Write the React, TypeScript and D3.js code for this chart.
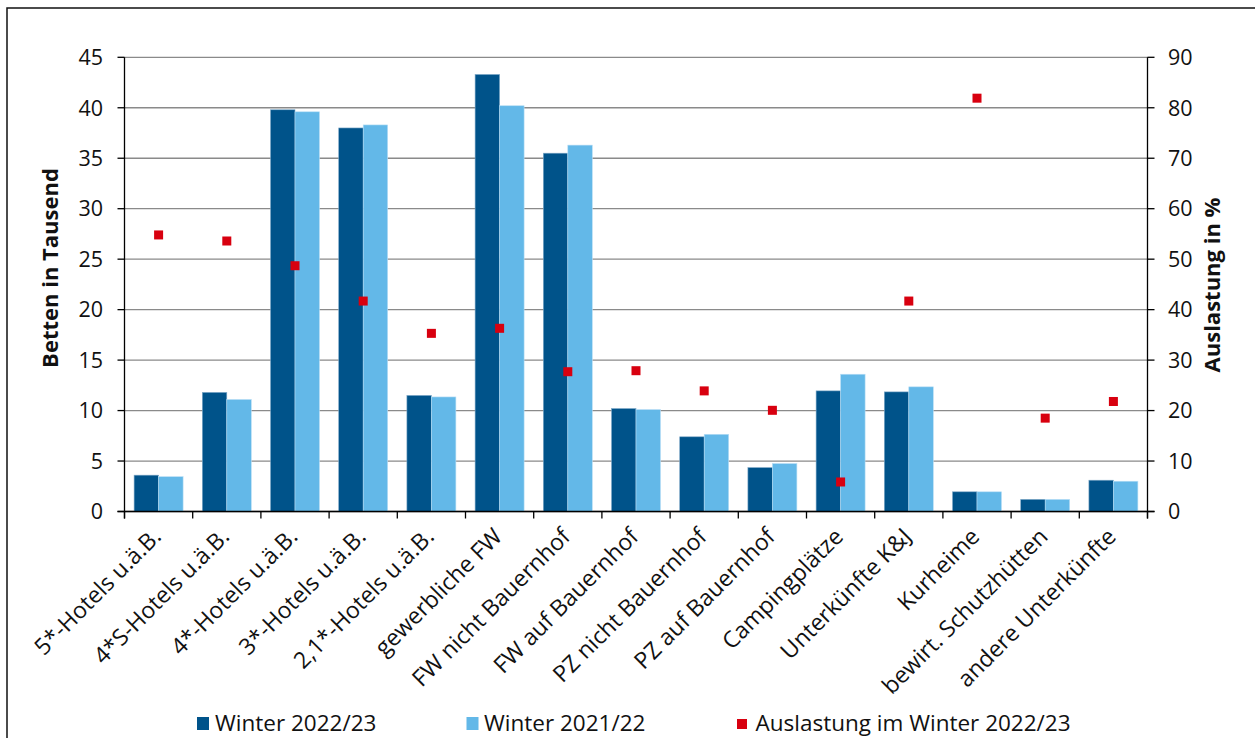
import React from "react";
import * as d3 from "d3";

const categories = [
  "5*-Hotels u.ä.B.",
  "4*S-Hotels u.ä.B.",
  "4*-Hotels u.ä.B.",
  "3*-Hotels u.ä.B.",
  "2,1*-Hotels u.ä.B.",
  "gewerbliche FW",
  "FW nicht Bauernhof",
  "FW auf Bauernhof",
  "PZ nicht Bauernhof",
  "PZ auf Bauernhof",
  "Campingplätze",
  "Unterkünfte K&J",
  "Kurheime",
  "bewirt. Schutzhütten",
  "andere Unterkünfte",
];
const winter2223 = [3.6, 11.8, 39.8, 38.0, 11.5, 43.3, 35.5, 10.2, 7.4, 4.35, 11.95, 11.85, 1.95, 1.2, 3.1];
const winter2122 = [3.45, 11.1, 39.6, 38.3, 11.35, 40.2, 36.3, 10.1, 7.65, 4.75, 13.6, 12.35, 1.95, 1.2, 3.0];
const auslastung = [54.8, 53.6, 48.7, 41.7, 35.3, 36.3, 27.7, 27.9, 23.9, 20.05, 5.85, 41.7, 81.9, 18.5, 21.8];
const leftTicks = [0, 5, 10, 15, 20, 25, 30, 35, 40, 45];
const rightTicks = [0, 10, 20, 30, 40, 50, 60, 70, 80, 90];
const seriesNames = ["Winter 2022/23", "Winter 2021/22", "Auslastung im Winter 2022/23"];

const DARK = "#00538a";
const LIGHT = "#63b8e8";
const RED = "#d8000f";
const FONT = "'Open Sans', 'DejaVu Sans', sans-serif";

export default function App() {
  const left = 124.5, right = 1147.5, top = 57.3, bottom = 511.5;
  const x = d3.scaleBand<string>().domain(categories).range([left, right]).padding(0);
  const x1 = d3.scaleBand<string>().domain(["a", "b"]).range([0, x.bandwidth()]).paddingInner(0).paddingOuter(0.392);
  const y = d3.scaleLinear().domain([0, 45]).range([bottom, top]);
  const y2 = d3.scaleLinear().domain([0, 90]).range([bottom, top]);
  const bounds = categories.map((c) => x(c) as number).concat([right]);

  return (
    <svg width={1255} height={738} style={{ position: "absolute", left: 0, top: 0 }} fontFamily={FONT}>
      <rect x={0} y={0} width={1255} height={738} fill="#fff" />
      <rect x={7} y={8} width={1260} height={760} fill="none" stroke="#111" strokeWidth={1.5} />
      {/* gridlines */}
      {leftTicks.map((t) => (
        <line key={"g" + t} x1={left} x2={right} y1={y(t)} y2={y(t)} stroke="#8a8a8a" strokeWidth={1.3} />
      ))}
      {/* bars */}
      {categories.map((c, i) => (
        <g key={c}>
          <rect x={(x(c) as number) + (x1("a") as number)} y={y(winter2223[i])} width={x1.bandwidth()} height={bottom - y(winter2223[i])} fill={DARK} stroke="#7fa9c8" strokeWidth={0.6} />
          <rect x={(x(c) as number) + (x1("b") as number)} y={y(winter2122[i])} width={x1.bandwidth()} height={bottom - y(winter2122[i])} fill={LIGHT} stroke="#b9def5" strokeWidth={0.6} />
        </g>
      ))}
      {/* markers */}
      {categories.map((c, i) => {
        const cx = (x(c) as number) + x.bandwidth() / 2;
        const cy = y2(auslastung[i]);
        return <rect key={"m" + c} x={cx - 4.5} y={cy - 4.5} width={9} height={9} fill={RED} />;
      })}
      {/* axes */}
      <line x1={left} x2={left} y1={top} y2={bottom + 7} stroke="#000" strokeWidth={1.3} />
      <line x1={right} x2={right} y1={top} y2={bottom + 7} stroke="#000" strokeWidth={1.3} />
      <line x1={left - 7} x2={right + 7} y1={bottom} y2={bottom} stroke="#000" strokeWidth={1.3} />
      {leftTicks.map((t) => (
        <g key={"l" + t}>
          <line x1={left - 7} x2={left} y1={y(t)} y2={y(t)} stroke="#000" strokeWidth={1.3} />
          <text x={103} y={y(t)} dy="0.36em" textAnchor="end" fontSize={21.5} fill="#111">{t}</text>
        </g>
      ))}
      {rightTicks.map((t) => (
        <g key={"r" + t}>
          <line x1={right} x2={right + 7} y1={y2(t)} y2={y2(t)} stroke="#000" strokeWidth={1.3} />
          <text x={1168} y={y2(t)} dy="0.36em" textAnchor="start" fontSize={21.5} fill="#111">{t}</text>
        </g>
      ))}
      {bounds.map((b, i) => (
        <line key={"t" + i} x1={b} x2={b} y1={bottom} y2={bottom + 7} stroke="#000" strokeWidth={1.3} />
      ))}
      {/* category labels */}
      {categories.map((c) => {
        const cx = (x(c) as number) + x.bandwidth() / 2;
        return (
          <text key={"c" + c} transform={`translate(${cx + 4},${538}) rotate(-45)`} textAnchor="end" fontSize={23} fill="#111">{c}</text>
        );
      })}
      {/* axis titles */}
      <text transform={`translate(58,268) rotate(-90)`} textAnchor="middle" fontSize={22} fontWeight="bold" fill="#111">Betten in Tausend</text>
      <text transform={`translate(1220,285) rotate(-90)`} textAnchor="middle" fontSize={22} fontWeight="bold" fill="#111">Auslastung in %</text>
      {/* legend */}
      <rect x={197} y={717} width={12} height={13} fill={DARK} />
      <text x={215} y={731} fontSize={22.5} fill="#111">{seriesNames[0]}</text>
      <rect x={466.5} y={717} width={12} height={13} fill={LIGHT} />
      <text x={484} y={731} fontSize={22.5} fill="#111">{seriesNames[1]}</text>
      <rect x={737} y={719} width={10} height={10} fill={RED} />
      <text x={755.5} y={731} fontSize={22.5} fill="#111">{seriesNames[2]}</text>
    </svg>
  );
}
